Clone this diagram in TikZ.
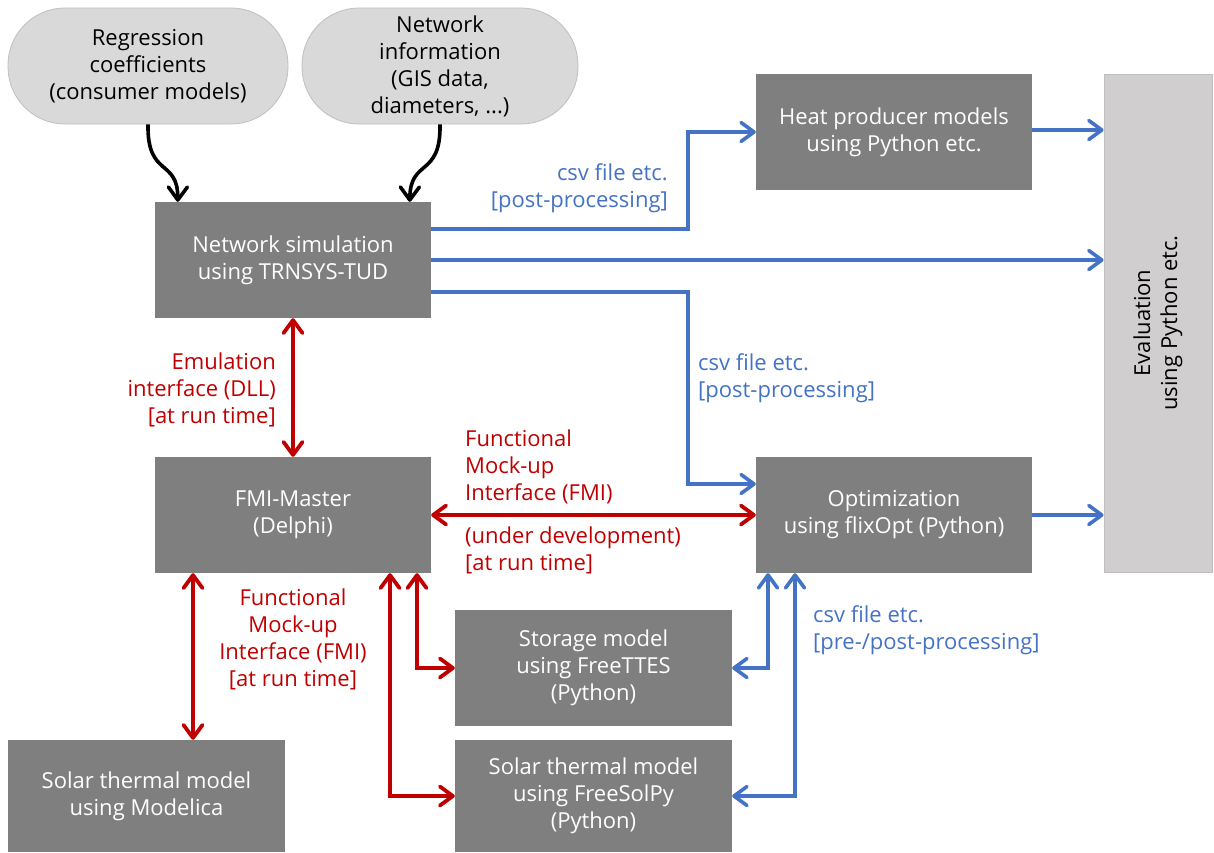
\documentclass[tikz,border=0pt]{standalone}
\usepackage{fontspec}
\setmainfont{Open Sans}
\usetikzlibrary{arrows.meta}
\definecolor{boxgray}{HTML}{7F7F7F}
\definecolor{lightfill}{HTML}{D9D9D9}
\definecolor{evalfill}{HTML}{D0CECE}
\definecolor{edgegray}{HTML}{BFBFBF}
\definecolor{myblue}{HTML}{4472C4}
\definecolor{myred}{HTML}{C00000}
\tikzset{
  txt/.style={font=\fontsize{22}{27}\selectfont, align=center, inner sep=0pt},
  darkbox/.style={txt, fill=boxgray, text=white, minimum width=276pt, minimum height=116pt},
  stadium/.style={txt, fill=lightfill, draw=edgegray, line width=0.8pt, rounded corners=57pt, minimum width=276pt, minimum height=116pt},
  tip/.style={-{Straight Barb[length=13pt,width=19pt,line cap=round,line join=round]}},
  dtip/.style={{Straight Barb[length=13pt,width=19pt,line cap=round,line join=round]}-{Straight Barb[length=13pt,width=19pt,line cap=round,line join=round]}},
  blueln/.style={draw=myblue, line width=3.6pt},
  redln/.style={draw=myred, line width=3.8pt},
  blackln/.style={draw=black, line width=3.6pt},
  bluelbl/.style={txt, text=myblue},
  redlbl/.style={txt, text=myred},
}
\begin{document}
\begin{tikzpicture}[x=1pt,y=-1pt]
\useasboundingbox (0,0) rectangle (1214,852);
% nodes
\node[stadium, minimum width=280pt] (reg) at (148,66) {Regression\\coefficients\\(consumer models)};
\node[stadium] (netinfo) at (440,66) {Network\\information\\(GIS data,\\diameters, ...)};
\node[darkbox] (netsim) at (293,260) {Network simulation\\using TRNSYS-TUD};
\node[darkbox] (heat) at (894,132) {Heat producer models\\using Python etc.};
\node[txt, fill=evalfill, draw=edgegray, line width=0.8pt, minimum width=108pt, minimum height=498pt] (eval) at (1158,323) {};
\node[txt, rotate=90] (evaltxt) at (eval.center) {Evaluation\\using Python etc.};
\node[darkbox] (fmi) at (293,515) {FMI-Master\\(Delphi)};
\node[darkbox] (opt) at (894,515) {Optimization\\using flixOpt (Python)};
\node[darkbox, minimum width=277pt] (storage) at (593.5,668) {Storage model\\using FreeTTES\\(Python)};
\node[darkbox, minimum width=277pt, minimum height=112pt] (solar) at (593.5,796) {Solar thermal model\\using FreeSolPy\\(Python)};
\node[darkbox, minimum width=277pt, minimum height=112pt] (modelica) at (146.5,796) {Solar thermal model\\using Modelica};
% black curved arrows
\draw[blackln, tip] (reg.south) .. controls (147,178) and (178,158) .. ([xshift=23pt]netsim.north west);
\draw[blackln, tip] (netinfo.south) .. controls (441,178) and (410,158) .. ([xshift=255pt]netsim.north west);
% blue arrows
\draw[blueln, tip] ([yshift=31pt]netsim.east) -| ([xshift=-68pt]heat.west) -- (heat.west);
\draw[blueln, tip] (netsim.east) -- (eval.west |- netsim.east);
\draw[blueln, tip] ([yshift=-32pt]netsim.east) -| ([xshift=-68pt,yshift=31pt]opt.west) -- ([yshift=31pt]opt.west);
\draw[blueln, tip] ([yshift=2pt]heat.east) coordinate (hE) -- (eval.west |- hE);
\draw[blueln, tip] (opt.east) -- (eval.west |- opt.east);
\draw[blueln, dtip] ([xshift=-126pt]opt.south) |- (storage.east);
\draw[blueln, dtip] ([xshift=-99pt]opt.south) |- (solar.east);
% red arrows
\draw[redln, dtip] (netsim.south) -- (fmi.north);
\draw[redln, dtip] (fmi.east) -- (opt.west);
\draw[redln, dtip] ([xshift=-100pt]fmi.south) coordinate (fS) -- (fS |- modelica.north);
\draw[redln, dtip] ([xshift=97pt]fmi.south) |- (solar.west);
\draw[redln, dtip] ([xshift=124pt]fmi.south) |- (storage.west);
% labels
\node[bluelbl, align=right, anchor=east] (l1) at (668,188) {csv file etc.\\{}[post-processing]};
\node[bluelbl, align=left, anchor=west] (l2) at (698,378) {csv file etc.\\{}[post-processing]};
\node[bluelbl, align=left, anchor=west] (l3) at (813,630) {csv file etc.\\{}[pre-/post-processing]};
\node[redlbl, align=right, anchor=east] (l4) at (276,390) {Emulation\\interface (DLL)\\{}[at run time]};
\node[redlbl, align=left, anchor=west] (l5) at (465,467) {Functional\\Mock-up\\Interface (FMI)};
\node[redlbl, align=left, anchor=west] (l6) at (465,550) {(under development)\\{}[at run time]};
\node[redlbl, align=center] (l7) at (293,639) {Functional\\Mock-up\\Interface (FMI)\\{}[at run time]};
\end{tikzpicture}
\end{document}
